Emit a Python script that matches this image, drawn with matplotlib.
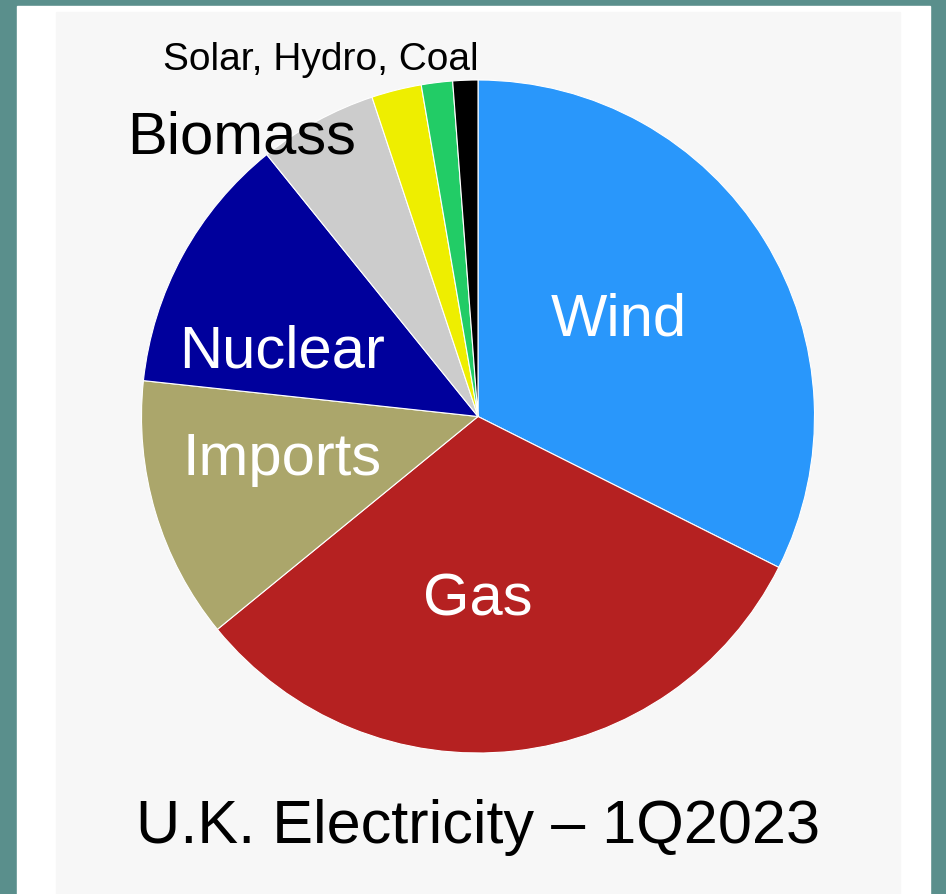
import numpy as np
import matplotlib
matplotlib.use('Agg')
import matplotlib.pyplot as plt
from matplotlib.patches import Rectangle

plt.rcParams['font.family'] = ['Liberation Sans', 'DejaVu Sans']

# shares (percent)
sources = ['Wind', 'Gas', 'Imports', 'Nuclear', 'Biomass', 'Solar', 'Hydro', 'Coal']
shares = [32.4, 31.7, 12.6, 12.5, 5.7, 2.4, 1.5, 1.2]
colors = ['#2997fb', '#b52121', '#aba66b', '#00009c', '#cccccc', '#eeee00', '#22cc66', '#000000']
title = 'U.K. Electricity \u2013 1Q2023'

W, H = 946, 895
fig = plt.figure(figsize=(W / 100, H / 100), dpi=100)
fig.patch.set_facecolor('#5a8f8c')

# white card and grey panel behind the chart
fig.patches.append(Rectangle((17 / W, 0), (930 - 17) / W, (H - 7) / H,
                             transform=fig.transFigure, color='white', zorder=-2))
fig.patches.append(Rectangle((56 / W, 0), (900 - 56) / W, (H - 13) / H,
                             transform=fig.transFigure, color='#f7f7f7', zorder=-1))

cx, cy, r = 478, 417.5, 336.5
ax = fig.add_axes([(cx - r) / W, (H - cy - r) / H, 2 * r / W, 2 * r / H])
ax.pie(shares, colors=colors, startangle=90, counterclock=False,
       wedgeprops=dict(edgecolor='white', linewidth=0.8))
ax.set_xlim(-1, 1)
ax.set_ylim(-1, 1)
ax.set_aspect('equal')
ax.axis('off')

def px(x, y):
    return (x - cx) / r, (cy - y) / r

big = 43
ax.text(*px(619, 335), 'Wind', color='white', fontsize=big, ha='center', va='baseline')
ax.text(*px(478, 615), 'Gas', color='white', fontsize=big, ha='center', va='baseline')
ax.text(*px(282, 475), 'Imports', color='white', fontsize=big, ha='center', va='baseline')
ax.text(*px(282, 367), 'Nuclear', color='white', fontsize=big, ha='center', va='baseline')
ax.text(*px(242, 153), 'Biomass', color='black', fontsize=big, ha='center', va='baseline')
ax.text(*px(321, 70), ', '.join(sources[5:]), color='black', fontsize=28,
        ha='center', va='baseline')

fig.text(478 / W, 1 - 843 / H, title, fontsize=44, ha='center', va='baseline')

fig.savefig('out.png', dpi=100, facecolor=fig.get_facecolor())
